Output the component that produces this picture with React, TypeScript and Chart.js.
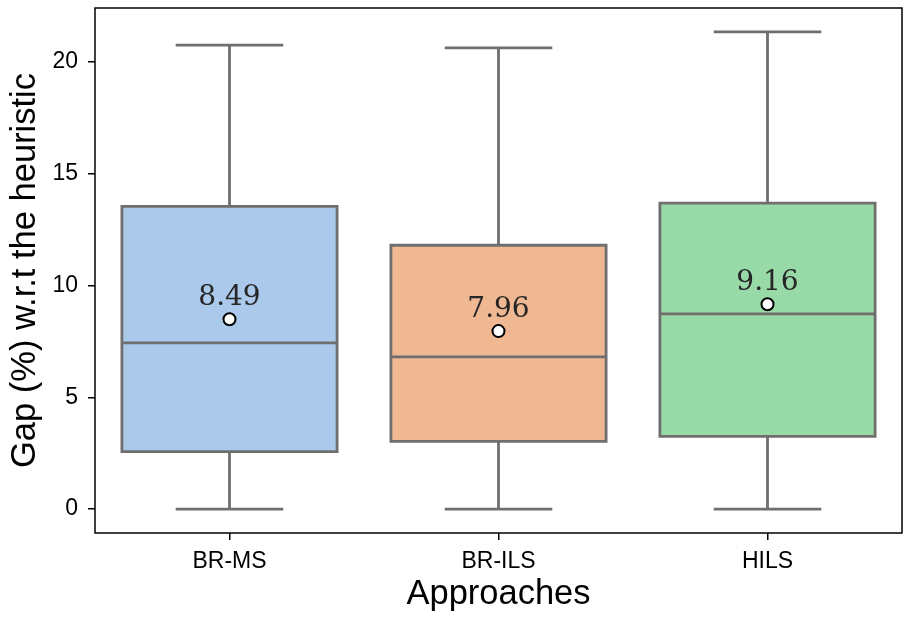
import React, { useEffect, useRef } from "react";
import { Chart, registerables } from "chart.js";

Chart.register(...registerables);

const categories = ["BR-MS", "BR-ILS", "HILS"];
const whiskerLow = [0, 0, 0];
const q1 = [2.57, 3.03, 3.25];
const medians = [7.43, 6.81, 8.73];
const q3 = [13.54, 11.8, 13.68];
const whiskerHigh = [20.75, 20.62, 21.34];
const means = [8.49, 7.96, 9.16];
const meanLabels = ["8.49", "7.96", "9.16"];
const yTicks = [0, 5, 10, 15, 20];
const boxColors = ["#abc9ea", "#efb792", "#98daa7"];

const LINE_GRAY = "#6f6f6f";

const boxPlugin = {
  id: "boxOutlines",
  afterDatasetDraw(chart: any, args: any) {
    if (args.index !== 0) return;
    const ctx = chart.ctx;
    const xs = chart.scales.x;
    const ys = chart.scales.y;
    const step = xs.getPixelForValue(1) - xs.getPixelForValue(0);
    const half = step * 0.4;
    const capHalf = step * 0.2;
    ctx.save();
    ctx.strokeStyle = LINE_GRAY;
    ctx.lineWidth = 2.8;
    ctx.lineCap = "butt";
    categories.forEach((_, i) => {
      const x = xs.getPixelForValue(i);
      const yq1 = ys.getPixelForValue(q1[i]);
      const yq3 = ys.getPixelForValue(q3[i]);
      const ymed = ys.getPixelForValue(medians[i]);
      const ylo = ys.getPixelForValue(whiskerLow[i]);
      const yhi = ys.getPixelForValue(whiskerHigh[i]);
      ctx.beginPath();
      ctx.rect(x - half, yq3, half * 2, yq1 - yq3);
      ctx.stroke();
      ctx.beginPath();
      ctx.moveTo(x - half, ymed);
      ctx.lineTo(x + half, ymed);
      ctx.moveTo(x, yq3);
      ctx.lineTo(x, yhi);
      ctx.moveTo(x, yq1);
      ctx.lineTo(x, ylo);
      ctx.moveTo(x - capHalf, yhi);
      ctx.lineTo(x + capHalf, yhi);
      ctx.moveTo(x - capHalf, ylo);
      ctx.lineTo(x + capHalf, ylo);
      ctx.stroke();
    });
    ctx.restore();
  },
  afterDatasetsDraw(chart: any) {
    const ctx = chart.ctx;
    const xs = chart.scales.x;
    const ys = chart.scales.y;
    ctx.save();
    ctx.fillStyle = "#262626";
    ctx.font = '28px "DejaVu Serif"';
    ctx.textAlign = "center";
    ctx.textBaseline = "alphabetic";
    categories.forEach((_, i) => {
      const x = xs.getPixelForValue(i);
      const y = ys.getPixelForValue(means[i]);
      ctx.fillText(meanLabels[i], x, y - 14);
    });
    ctx.restore();
  },
  afterDraw(chart: any) {
    const ctx = chart.ctx;
    const a = chart.chartArea;
    ctx.save();
    ctx.strokeStyle = "#000";
    ctx.lineWidth = 1.5;
    ctx.strokeRect(a.left, a.top, a.right - a.left, a.bottom - a.top);
    ctx.restore();
  },
};

export default function App() {
  const ref = useRef<HTMLCanvasElement>(null);
  useEffect(() => {
    document.body.style.margin = "0";
    const canvas = ref.current!;
    const chart = new Chart(canvas, {
      type: "bar",
      data: {
        labels: categories,
        datasets: [
          {
            type: "bar",
            data: categories.map((_, i) => [q1[i], q3[i]]) as any,
            backgroundColor: boxColors,
            borderWidth: 0,
            categoryPercentage: 0.8,
            barPercentage: 1,
            order: 1,
          },
          {
            type: "line",
            data: means,
            showLine: false,
            pointRadius: 6,
            pointBackgroundColor: "#ffffff",
            pointBorderColor: "#000000",
            pointBorderWidth: 2,
            order: 0,
          } as any,
        ],
      },
      options: {
        responsive: false,
        animation: false,
        devicePixelRatio: 1,
        layout: { padding: { top: 5, right: 3, left: 0, bottom: 0 } },
        plugins: {
          legend: { display: false },
          tooltip: { enabled: false },
        },
        scales: {
          x: {
            type: "category",
            offset: true,
            afterFit: (s: any) => {
              s.height = 84;
              s.paddingLeft = 0;
              s.paddingRight = 0;
            },
            grid: {
              display: true,
              offset: false,
              drawOnChartArea: false,
              drawTicks: true,
              tickLength: 7,
              color: "#000",
              lineWidth: 1.5,
            },
            border: { display: false },
            ticks: {
              color: "#000",
              font: { family: "Liberation Sans, Arial, sans-serif", size: 23 },
              padding: 8,
            },
            title: {
              display: true,
              text: "Approaches",
              color: "#000",
              font: { family: "Liberation Sans, Arial, sans-serif", size: 34.5 },
              padding: { top: 0, bottom: 2 },
            },
          },
          y: {
            type: "linear",
            min: -1.067,
            max: 22.407,
            afterFit: (s: any) => {
              s.width = 95;
              s.paddingTop = 0;
              s.paddingBottom = 0;
            },
            afterBuildTicks: (s: any) => {
              s.ticks = yTicks.map((v) => ({ value: v }));
            },
            grid: {
              display: true,
              drawOnChartArea: false,
              drawTicks: true,
              tickLength: 7,
              color: "#000",
              lineWidth: 1.5,
            },
            border: { display: false },
            ticks: {
              color: "#000",
              font: { family: "Liberation Sans, Arial, sans-serif", size: 23 },
              padding: 10,
            },
            title: {
              display: true,
              text: "Gap (%) w.r.t the heuristic",
              color: "#000",
              font: { family: "Liberation Sans, Arial, sans-serif", size: 34.5 },
              padding: { top: 5, bottom: 0 },
            },
          },
        },
      },
      plugins: [boxPlugin],
    });
    return () => chart.destroy();
  }, []);
  return (
    <div style={{ width: 910, height: 617 }}>
      <canvas ref={ref} width={910} height={617} style={{ display: "block" }} />
    </div>
  );
}
